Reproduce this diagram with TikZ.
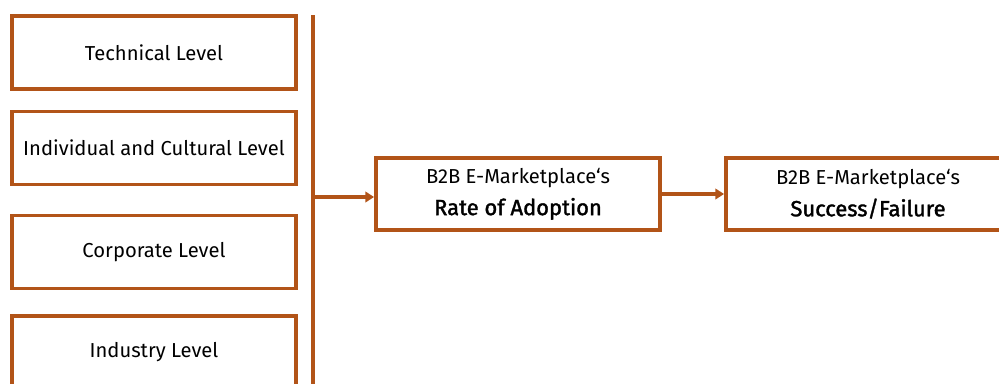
\documentclass[tikz,border=0pt]{standalone}
\usepackage{fontspec}
\setmainfont{Fira Sans}
\newfontfamily\medfont[FakeBold=1.6]{Fira Sans}
\usepackage{tikz}
\usetikzlibrary{positioning, arrows.meta}
\usepackage{xcolor}
\definecolor{rust}{RGB}{178,84,24}
\tikzset{
  lvlbox/.style={rectangle, draw=rust, line width=2.2pt,
                 minimum width=5.68cm, minimum height=1.46cm,
                 align=center, font=\fontsize{11.5}{14}\selectfont},
  resbox/.style={rectangle, draw=rust, line width=2.2pt,
                 minimum width=5.68cm, minimum height=1.44cm,
                 align=center, font=\fontsize{11.5}{16}\selectfont},
  arr/.style={-{Triangle[length=5pt, width=6pt]}, line width=2.2pt, color=rust},
  bar/.style={line width=2.2pt, color=rust},
}

\begin{document}
\begin{tikzpicture}[x=0.02cm, y=-0.02cm]
    \useasboundingbox (0,0) rectangle (999,383);
    % left column of levels
    \node[lvlbox] (tech) at (154,52.5) {Technical Level};
    \node[lvlbox] (indiv) at (154,148) {Individual and Cultural Level};
    \node[lvlbox] (corp) at (154,252) {Corporate Level};
    \node[lvlbox] (indus) at (154,352.5) {Industry Level};
    % collecting bar
    \coordinate (bartop) at (313,15);
    \coordinate (barbot) at (313,390);
    \coordinate (barmid) at (313,197);
    \draw[bar] (bartop) -- (barbot);
    % outcome boxes
    \node[resbox] (adopt) at (518,194)
          {B2B E-Marketplace‘s\\[2pt]{\medfont\fontsize{12.5}{16}\selectfont Rate of Adoption}};
    \node[resbox] (succ) at (868,194)
          {B2B E-Marketplace‘s\\[2pt]{\medfont\fontsize{12.5}{16}\selectfont Success/Failure}};
    \draw[arr] (barmid) -- (adopt.west |- barmid);
    \draw[arr] (adopt) -- (succ);
\end{tikzpicture}
\end{document}
